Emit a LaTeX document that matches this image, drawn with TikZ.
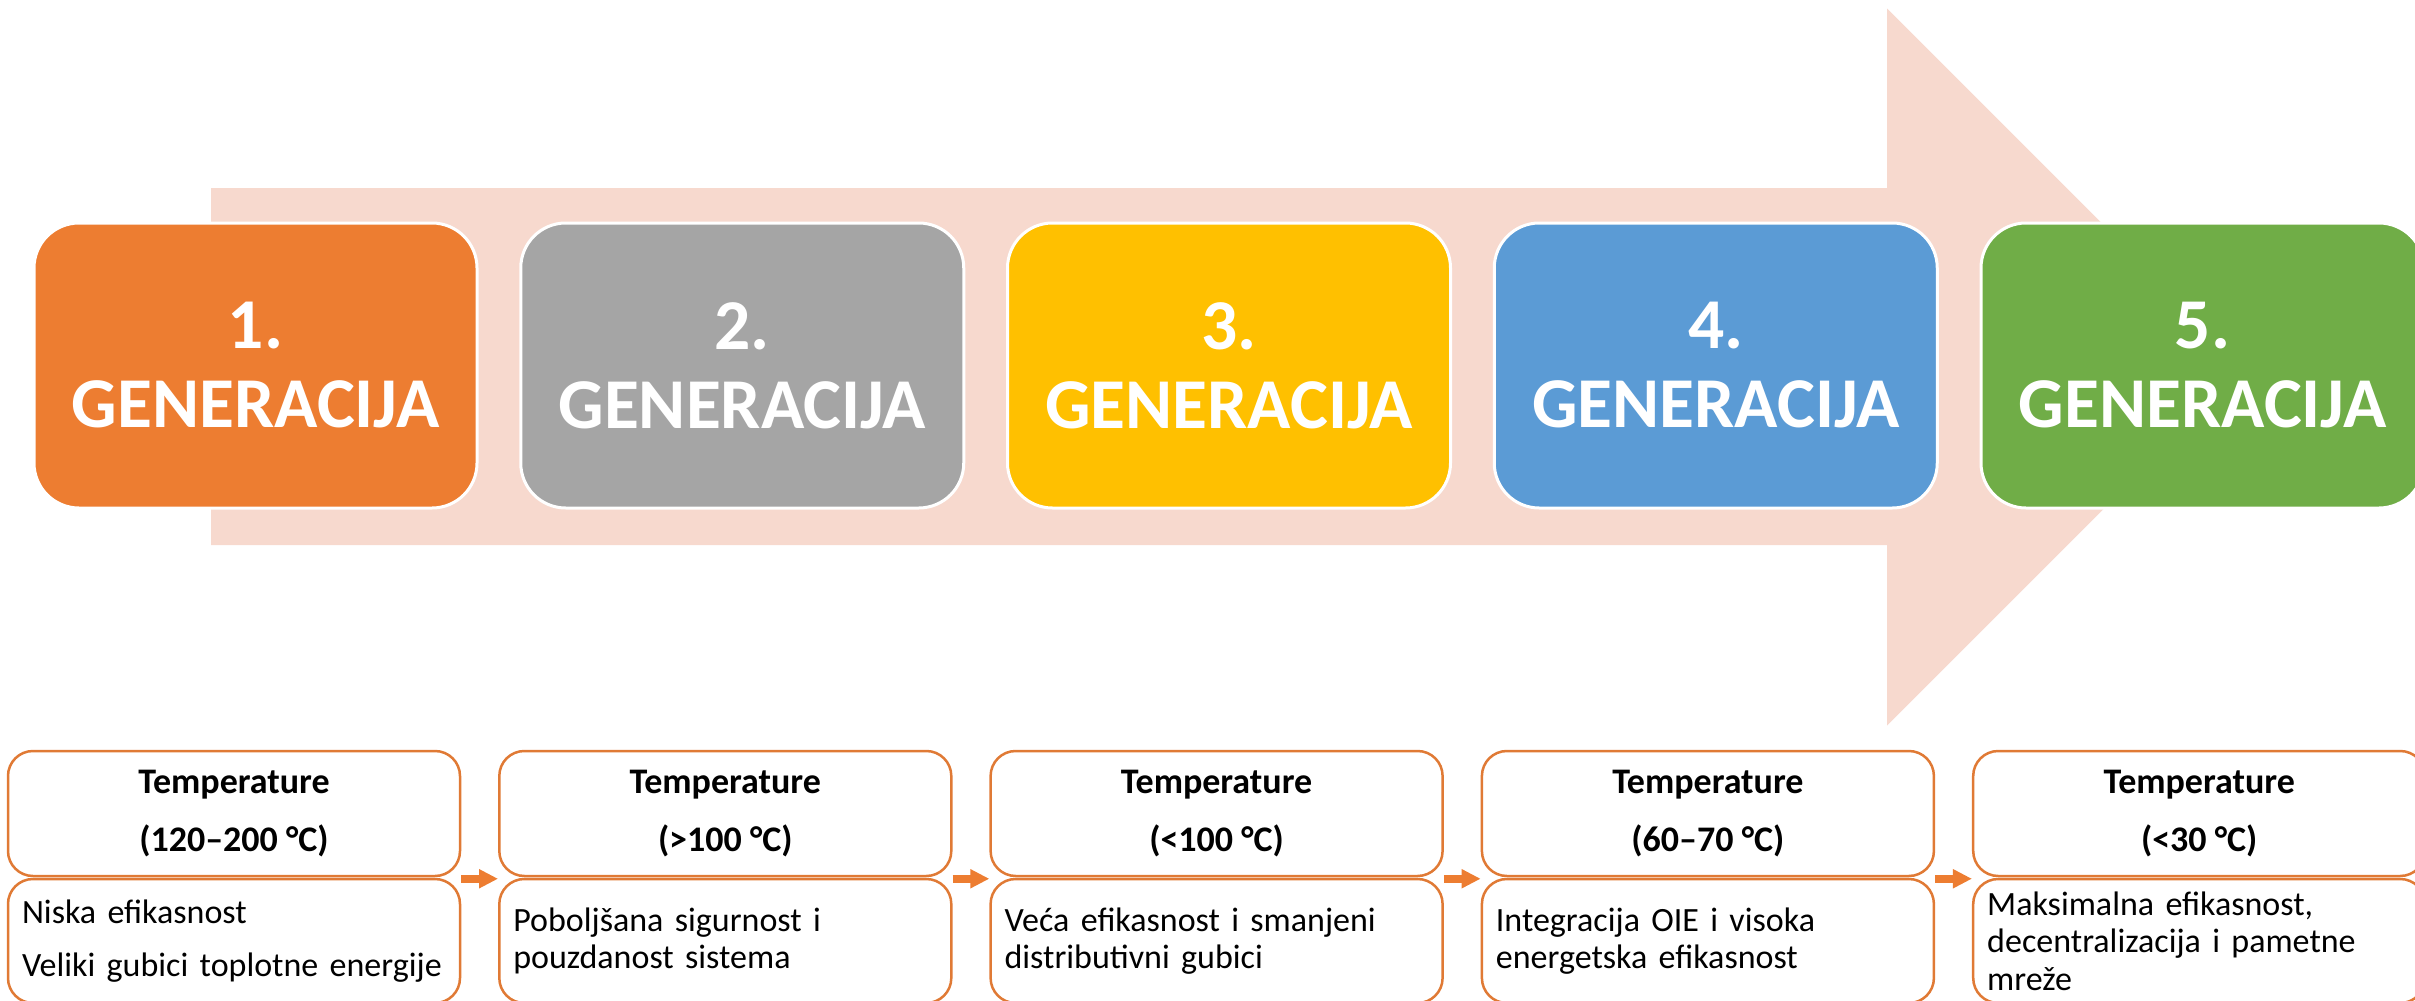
\documentclass[tikz,border=0pt]{standalone}
\usepackage{fontspec}
\setmainfont{Carlito}
\usetikzlibrary{arrows.meta}
\definecolor{gorange}{HTML}{ED7D31}
\definecolor{ggray}{HTML}{A5A5A5}
\definecolor{gyellow}{HTML}{FFC000}
\definecolor{gblue}{HTML}{5B9BD5}
\definecolor{ggreen}{HTML}{70AD47}
\definecolor{peach}{HTML}{F7D9CE}
\definecolor{bord}{HTML}{E07A35}
\begin{document}
\hyphenpenalty=10000
\exhyphenpenalty=10000
\begin{tikzpicture}[x=1pt,y=-1pt,
  genbox/.style={draw=white, line width=3pt, rounded corners=45pt, minimum width=443pt, minimum height=285pt, inner sep=0pt, align=center, text=white, font=\fontsize{71.5}{79}\selectfont\bfseries},
  tempbox/.style={draw=bord, line width=2.5pt, fill=white, rounded corners=25pt, minimum width=452pt, minimum height=125pt, inner sep=0pt, align=center, font=\fontsize{36}{58}\selectfont\bfseries},
  descbox/.style={draw=bord, line width=2.5pt, fill=white, rounded corners=25pt, text width=424pt, inner xsep=14pt, inner ysep=0pt, minimum height=124pt, align=left, font=\fontsize{34}{37.5}\selectfont},
  flow/.style={draw=gorange, line width=8pt, -{Triangle[length=19pt,width=18pt]}, shorten <=0pt}
]
\useasboundingbox (0,0) rectangle (2415,1001);
\clip (0,0) rectangle (2415,1001);
% big background arrow
\fill[peach] (211,188) -- (1887,188) -- (1887,8.5) -- (2245.5,367) -- (1887,725.5) -- (1887,545) -- (211,545) -- cycle;
% generation boxes
\node[genbox, fill=gorange] (g1) at (255.5,365.5) {1.\\GENERACIJA};
\node[genbox, fill=ggray]   (g2) at (742.25,365.5) {2.\\GENERACIJA};
\node[genbox, fill=gyellow] (g3) at (1229,365.5) {3.\\GENERACIJA};
\node[genbox, fill=gblue]   (g4) at (1715.75,365.5) {4.\\GENERACIJA};
\node[genbox, fill=ggreen]  (g5) at (2202.5,365.5) {5.\\GENERACIJA};
% temperature boxes
\node[tempbox] (t1) at (234,813.5) {Temperature\\(120–200 °C)};
\node[tempbox] (t2) at (725.3,813.5) {Temperature\\(>100 °C)};
\node[tempbox] (t3) at (1216.6,813.5) {Temperature\\(<100 °C)};
\node[tempbox] (t4) at (1707.9,813.5) {Temperature\\(60–70 °C)};
\node[tempbox] (t5) at (2199.2,813.5) {Temperature\\(<30 °C)};
% description boxes
\node[descbox] (d1) at (234,941) {Niska efikasnost\\[16pt]Veliki gubici toplotne energije};
\node[descbox] (d2) at (725.3,941) {Poboljšana sigurnost i pouzdanost sistema};
\node[descbox] (d3) at (1216.6,941) {Veća efikasnost i smanjeni distributivni gubici};
\node[descbox] (d4) at (1707.9,941) {Integracija OIE i visoka energetska efikasnost};
\node[descbox] (d5) at (2199.2,941) {Maksimalna efikasnost, decentralizacija i pametne mreže};
% connectors
\draw[flow] ([yshift=-1.5pt]t1.south east) -- ([yshift=-1.5pt]t2.south west);
\draw[flow] ([yshift=-1.5pt]t2.south east) -- ([yshift=-1.5pt]t3.south west);
\draw[flow] ([yshift=-1.5pt]t3.south east) -- ([yshift=-1.5pt]t4.south west);
\draw[flow] ([yshift=-1.5pt]t4.south east) -- ([yshift=-1.5pt]t5.south west);
\end{tikzpicture}
\end{document}
